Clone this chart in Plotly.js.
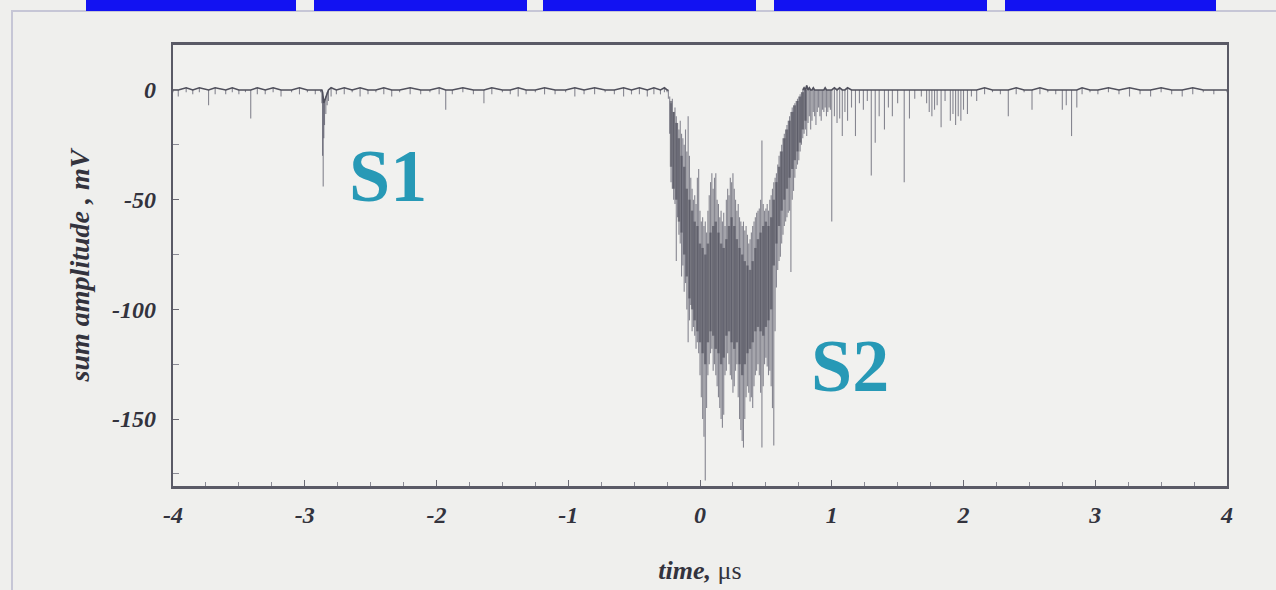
<!DOCTYPE html>
<html>
<head>
<meta charset="utf-8">
<script src="https://cdn.plot.ly/plotly-3.0.1.min.js"></script>
<style>
html,body{margin:0;padding:0;background:#efefed;}
#chart{width:1276px;height:590px;}
</style>
</head>
<body>
<div id="chart"></div>
<script>
// ---------- DATA ----------
// Baseline before the S2 pulse: time (µs), top and bottom of each trace column (mV)
const leftTime = [
 -4.00, -3.96, -3.90, -3.85, -3.80, -3.73, -3.68, -3.60, -3.55, -3.50,
 -3.45, -3.41, -3.36, -3.30, -3.24, -3.18, -3.10, -3.04, -2.98, -2.92,
 -2.88, -2.87, -2.865, -2.86, -2.855, -2.85, -2.84, -2.83, -2.82, -2.80,
 -2.76, -2.70, -2.64, -2.58, -2.52, -2.46, -2.40, -2.34, -2.28, -2.20,
 -2.12, -2.05, -1.98, -1.93, -1.88, -1.80, -1.72, -1.64, -1.58, -1.50,
 -1.44, -1.38, -1.32, -1.25, -1.18, -1.10, -1.02, -0.95, -0.88, -0.80,
 -0.72, -0.65, -0.58, -0.52, -0.46, -0.40, -0.35, -0.30, -0.27
];
const leftUpper = [
 0, 0, 1, 0, 1, 0, 1, 0, 1, 0,
 0, 0, 1, 0, 1, 0, 0, 1, 0, 0,
 0, 0, -1, -3, -6, -5, -3, -1, 0, 1,
 0, 1, 0, 1, 0, 0, 1, 0, 0, 1,
 0, 0, 1, 0, 0, 1, 0, 0, 1, 0,
 0, 1, 0, 0, 1, 0, 0, 1, 0, 1,
 0, 0, 1, 0, 1, 0, 1, 0, 1
];
const leftLower = [
 -1, -3, -1, -2, -1, -7, -2, -2, -1, -2,
 -1, -13, -2, -2, -1, -3, -1, -2, -1, -2,
 -1, -6, -30, -44, -22, -16, -11, -7, -5, -3,
 -2, -2, -1, -3, -2, -1, -2, -3, -1, -2,
 -2, -1, -2, -9, -2, -1, -2, -6, -2, -1,
 -2, -3, -2, -1, -2, -2, -1, -3, -2, -2,
 -1, -2, -3, -2, -2, -3, -2, -2, -1
];

// S2 pulse region
const pulseTime = [
 -0.25, -0.24, -0.23, -0.22, -0.21, -0.20, -0.19, -0.18, -0.17, -0.16,
 -0.15, -0.14, -0.13, -0.12, -0.11, -0.10, -0.09, -0.08, -0.07, -0.06,
 -0.05, -0.04, -0.03, -0.02, -0.01, 0.00, 0.01, 0.02, 0.03, 0.04,
 0.05, 0.06, 0.07, 0.08, 0.09, 0.10, 0.11, 0.12, 0.13, 0.14,
 0.15, 0.16, 0.17, 0.18, 0.19, 0.20, 0.21, 0.22, 0.23, 0.24,
 0.25, 0.26, 0.27, 0.28, 0.29, 0.30, 0.31, 0.32, 0.33, 0.34,
 0.35, 0.36, 0.37, 0.38, 0.39, 0.40, 0.41, 0.42, 0.43, 0.44,
 0.45, 0.46, 0.47, 0.48, 0.49, 0.50, 0.51, 0.52, 0.53, 0.54,
 0.55, 0.56, 0.57, 0.58, 0.59, 0.60, 0.61, 0.62, 0.63, 0.64,
 0.65, 0.66, 0.67, 0.68, 0.69, 0.70, 0.71, 0.72, 0.73, 0.74,
 0.75, 0.76, 0.77, 0.78, 0.79, 0.80, 0.81, 0.82, 0.83, 0.84,
 0.85, 0.86, 0.87, 0.88, 0.89, 0.90, 0.91, 0.92, 0.93, 0.94,
 0.95, 0.96, 0.97, 0.98, 0.99
];
const pulseUpper = [
 0, 0, -3, -6, -4, -10, -8, -12, -15, -18,
 -14, -20, -22, -25, -18, -28, -12, -30, -40, -45,
 -50, -48, -52, -40, -36, -55, -60, -58, -62, -60,
 -65, -55, -48, -42, -38, -45, -40, -38, -50, -52,
 -58, -55, -60, -56, -62, -50, -45, -48, -40, -42,
 -38, -45, -50, -55, -52, -58, -60, -62, -60, -64,
 -62, -66, -70, -68, -65, -62, -60, -58, -56, -55,
 -54, -50, -23, -52, -55, -54, -52, -55, -50, -48,
 -45, -42, -40, -38, -34, -30, -28, -25, -22, -20,
 -18, -16, -14, -12, -10, -8, -7, -6, -5, -4,
 -3, -2, -1, 0, 1, 0, 2, 0, 1, 0,
 0, 1, 0, 0, 0, 0, 0, 0, 0, 0,
 1, 0, 0, 0, 0
];
const pulseLower = [
 -1, -4, -20, -42, -45, -50, -52, -78, -58, -66,
 -70, -85, -80, -92, -88, -100, -115, -105, -98, -110,
 -108, -112, -118, -115, -120, -130, -140, -150, -158, -178,
 -145, -130, -125, -120, -118, -128, -125, -130, -135, -140,
 -145, -150, -154, -148, -130, -128, -120, -125, -130, -132,
 -138, -135, -128, -125, -140, -150, -155, -160, -163, -150,
 -140, -135, -138, -142, -140, -145, -135, -130, -128, -125,
 -130, -138, -163, -135, -125, -122, -126, -130, -128, -135,
 -145, -162, -110, -90, -82, -78, -76, -70, -66, -62,
 -60, -58, -56, -55, -83, -50, -46, -40, -36, -34,
 -32, -28, -25, -22, -20, -18, -21, -15, -12, -18,
 -14, -10, -12, -16, -10, -8, -12, -14, -9, -10,
 -8, -12, -10, -8, -9
];

// Dense dark core of the S2 pulse
const coreTime = [
 -0.22, -0.20, -0.18, -0.16, -0.14, -0.12, -0.10, -0.08, -0.06, -0.04,
 -0.02, 0.00, 0.02, 0.04, 0.06, 0.08, 0.10, 0.12, 0.14, 0.16,
 0.18, 0.20, 0.22, 0.24, 0.26, 0.28, 0.30, 0.32, 0.34, 0.36,
 0.38, 0.40, 0.42, 0.44, 0.46, 0.48, 0.50, 0.52, 0.54, 0.56,
 0.58, 0.60, 0.62, 0.64, 0.66, 0.68, 0.70, 0.72, 0.74, 0.76,
 0.78, 0.80
];
const coreUpper = [
 -5, -10, -15, -22, -30, -35, -45, -50, -55, -60,
 -62, -70, -72, -75, -70, -65, -62, -60, -65, -70,
 -72, -68, -62, -58, -62, -68, -72, -75, -78, -80,
 -82, -78, -72, -68, -65, -62, -60, -62, -58, -50,
 -42, -35, -28, -22, -18, -14, -10, -7, -5, -3,
 -1, 0
];
const coreLower = [
 -35, -45, -50, -60, -65, -75, -85, -95, -100, -105,
 -110, -115, -120, -125, -115, -110, -112, -118, -120, -125,
 -122, -112, -110, -115, -118, -115, -125, -130, -125, -120,
 -118, -115, -110, -108, -110, -112, -108, -105, -100, -80,
 -70, -62, -55, -50, -45, -40, -36, -32, -28, -24,
 -18, -14
];

// Tail after the pulse
const rightTime = [
 1.00, 1.02, 1.04, 1.06, 1.08, 1.10, 1.12, 1.15, 1.18, 1.21,
 1.24, 1.27, 1.30, 1.33, 1.36, 1.40, 1.43, 1.46, 1.50, 1.55,
 1.59, 1.63, 1.68, 1.72, 1.74, 1.76, 1.78, 1.80, 1.83, 1.86,
 1.90, 1.92, 1.94, 1.96, 1.98, 2.00, 2.03, 2.06, 2.10, 2.16,
 2.22, 2.28, 2.34, 2.40, 2.46, 2.52, 2.58, 2.64, 2.70, 2.75,
 2.78, 2.82, 2.86, 2.90, 2.96, 3.02, 3.10, 3.18, 3.26, 3.34,
 3.42, 3.50, 3.58, 3.66, 3.74, 3.82, 3.90, 4.00
];
const rightUpper = [
 0, 1, 0, 1, 0, 0, 1, 0, 0, 0,
 0, 0, 0, 0, 0, 0, 0, 0, 0, 0,
 0, 0, 0, 0, 0, 0, 0, 0, 0, 0,
 0, 0, 0, 0, 0, 0, 0, 0, 0, 1,
 0, 0, 0, 1, 0, 0, 1, 0, 0, 0,
 0, 0, 0, 1, 0, 0, 1, 0, 1, 0,
 0, 1, 0, 0, 1, 0, 0, 0
];
const rightLower = [
 -60, -12, -15, -13, -21, -10, -14, -8, -21, -6,
 -9, -5, -39, -24, -12, -18, -8, -12, -6, -42,
 -13, -4, -3, -6, -10, -12, -9, -7, -17, -5,
 -14, -11, -16, -12, -14, -9, -11, -3, -5, -2,
 -1, -2, -12, -2, -1, -9, -2, -1, -2, -9,
 -7, -21, -8, -2, -1, -2, -1, -2, -3, -2,
 -3, -1, -2, -3, -2, -1, -2, -1
];

const xTickVals = [-4, -3, -2, -1, 0, 1, 2, 3, 4];
const yTickVals = [0, -50, -100, -150];
const labelS1 = {text: 'S1', t: -2.37, v: -39};
const labelS2 = {text: 'S2', t: 1.14, v: -126};
// the baseline is drawn only outside the pulse body (µs)
const pulseStart = -0.24, pulseEnd = 0.78;

// ---------- BUILD ----------
const time = leftTime.concat(pulseTime, rightTime);
const upper = leftUpper.concat(pulseUpper, rightUpper);
const lower = leftLower.concat(pulseLower, rightLower);

function segments(t, hi, lo) {
  const x = [], y = [];
  for (let i = 0; i < t.length; i++) {
    x.push(t[i], t[i], null);
    y.push(hi[i], lo[i], null);
  }
  return {x, y};
}
const outer = segments(time, upper, lower);
const core = segments(coreTime, coreUpper, coreLower);

// baseline line: before and after the pulse body, with a gap in between
const baseX = [], baseY = [];
time.forEach((t, i) => { if (t <= pulseStart) { baseX.push(t); baseY.push(upper[i]); } });
baseX.push(null); baseY.push(null);
time.forEach((t, i) => { if (t >= pulseEnd) { baseX.push(t); baseY.push(upper[i]); } });

const serif = 'Liberation Serif, Times New Roman, serif';
const ink = '#33333d';
const tickFont = {family: serif, size: 24, color: ink, weight: 'bold', style: 'italic'};

const traces = [
  {type: 'scatter', mode: 'lines', x: outer.x, y: outer.y, connectgaps: false,
   line: {color: 'rgba(68,68,86,0.62)', width: 1.1}, hoverinfo: 'skip'},
  {type: 'scatter', mode: 'lines', x: core.x, y: core.y, connectgaps: false,
   line: {color: 'rgba(52,52,66,0.5)', width: 2.4}, hoverinfo: 'skip'},
  {type: 'scatter', mode: 'lines', x: baseX, y: baseY, connectgaps: false,
   line: {color: '#50505c', width: 1.6}, hoverinfo: 'skip'}
];

// page-pixel helpers for decorative frame (plot area: 173..1227 x 45..486)
const L = 173, R = 1227, T = 45, B = 486;
const px = v => (v - L) / (R - L);
const py = v => (B - v) / (B - T);
const blueBars = [[86, 296], [314, 527], [543, 756], [774, 987], [1005, 1216]];
const shapes = blueBars.map(b => ({
  type: 'rect', xref: 'paper', yref: 'paper', layer: 'above',
  x0: px(b[0]), x1: px(b[1]), y0: py(11), y1: py(-5),
  fillcolor: '#1212f2', line: {width: 0}
}));
shapes.unshift({
  type: 'rect', xref: 'paper', yref: 'paper', layer: 'below',
  x0: px(12), x1: px(1290), y0: py(600), y1: py(11),
  fillcolor: 'rgba(0,0,0,0)', line: {color: '#c6c6d6', width: 2}
});

const layout = {
  width: 1276, height: 590,
  margin: {l: L, r: 1276 - R, t: T, b: 590 - B, pad: 0},
  paper_bgcolor: '#efefed',
  plot_bgcolor: '#f1f1ef',
  showlegend: false,
  hovermode: false,
  xaxis: {
    range: [-4, 4], tickmode: 'array', tickvals: xTickVals,
    ticktext: xTickVals.map(v => v < 0 ? '-' + Math.abs(v) : String(v)),
    ticks: 'inside', ticklen: 6, tickwidth: 1, tickcolor: '#6a6a74',
    minor: {dtick: 0.25, ticks: 'inside', ticklen: 4, tickcolor: '#8a8a94'},
    showgrid: false, zeroline: false,
    showline: true, mirror: true, linecolor: '#5a5a66', linewidth: 2.6,
    tickfont: tickFont, ticklabelstandoff: 6,
    automargin: false,
    title: {text: 'time, <span style="font-weight:normal;font-style:normal">μs</span>',
            font: {family: serif, size: 26, color: ink, weight: 'bold', style: 'italic'},
            standoff: 34}
  },
  yaxis: {
    range: [-180.5, 20.5], tickmode: 'array', tickvals: yTickVals,
    ticktext: yTickVals.map(v => v < 0 ? '-' + Math.abs(v) : String(v)),
    ticks: 'inside', ticklen: 6, tickwidth: 1, tickcolor: '#6a6a74',
    minor: {dtick: 25, ticks: 'inside', ticklen: 6, tickcolor: '#8a8a94'},
    showgrid: false, zeroline: false,
    showline: true, mirror: true, linecolor: '#5a5a66', linewidth: 2.2,
    tickfont: tickFont, ticklabelstandoff: 10,
    automargin: false,
    title: {text: 'sum amplitude , mV',
            font: {family: serif, size: 28, color: ink, weight: 'bold', style: 'italic'},
            standoff: 14}
  },
  annotations: [labelS1, labelS2].map(a => ({
    x: a.t, y: a.v, xref: 'x', yref: 'y', text: a.text, showarrow: false,
    xanchor: 'center', yanchor: 'middle',
    font: {family: serif, size: 74, color: '#2799b6', weight: 'bold'}
  })),
  shapes: shapes
};

Plotly.newPlot('chart', traces, layout, {staticPlot: true, displayModeBar: false});
</script>
</body>
</html>
